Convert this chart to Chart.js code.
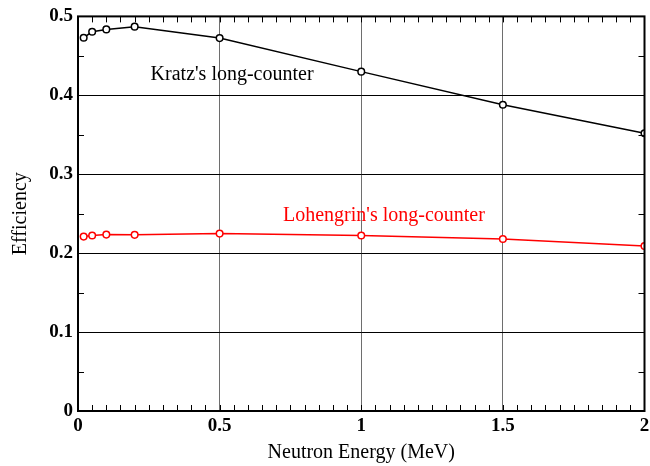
<!DOCTYPE html>
<html>
<head>
<meta charset="utf-8">
<script src="https://cdn.jsdelivr.net/npm/chart.js@4.4.1/dist/chart.umd.min.js"></script>
<style>
  html, body { margin: 0; padding: 0; background: #fff; }
  #wrap { width: 650px; height: 466px; position: relative; }
</style>
</head>
<body>
<div id="wrap"><canvas id="effChart"></canvas></div>
<script>
// neutron energy (MeV) for each measured point
const energies = [0.02, 0.05, 0.1, 0.2, 0.5, 1, 1.5, 2];

// detection efficiency of each counter
const kratzEff = [0.473, 0.4805, 0.4835, 0.487, 0.4725, 0.430, 0.388, 0.352];
const lohengrinEff = [0.221, 0.2223, 0.2235, 0.2232, 0.2248, 0.2223, 0.218, 0.209];

const seriesNames = ["Kratz's long-counter", "Lohengrin's long-counter"];
const seriesColors = ["#000000", "#ff0000"];

// where each series name is written (data units: x centre, text baseline)
const nameX = [0.544, 1.08];
const nameY = [0.4195, 0.241];

const serif = "'Liberation Serif', 'Times New Roman', serif";

function toPoints(ys) {
  return energies.map((x, i) => ({ x: x, y: ys[i] }));
}

// frame, inward minor ticks and the series names
const framePlugin = {
  id: "frame",
  afterDraw(chart) {
    const ctx = chart.ctx;
    const a = chart.chartArea;
    const xs = chart.scales.x;
    const ys = chart.scales.y;
    ctx.save();
    ctx.strokeStyle = "#000";
    ctx.lineWidth = 1;
    ctx.beginPath();
    for (let v = 0.05; v < 2; v += 0.05) {
      const px = Math.round(xs.getPixelForValue(v)) + 0.5;
      ctx.moveTo(px, a.bottom); ctx.lineTo(px, a.bottom - 6);
      ctx.moveTo(px, a.top); ctx.lineTo(px, a.top + 6);
    }
    for (let v = 0.05; v < 0.5; v += 0.1) {
      const py = Math.round(ys.getPixelForValue(v)) + 0.5;
      ctx.moveTo(a.left, py); ctx.lineTo(a.left + 6, py);
      ctx.moveTo(a.right, py); ctx.lineTo(a.right - 6, py);
    }
    ctx.stroke();
    ctx.lineWidth = 2;
    ctx.strokeRect(a.left, a.top, a.right - a.left, a.bottom - a.top);
    ctx.restore();
  },
  afterDatasetsDraw(chart) {
    const ctx = chart.ctx;
    const xs = chart.scales.x;
    const ys = chart.scales.y;
    ctx.save();
    ctx.font = "20px " + serif;
    ctx.textAlign = "center";
    ctx.textBaseline = "alphabetic";
    seriesNames.forEach((name, i) => {
      ctx.fillStyle = seriesColors[i];
      ctx.fillText(name, xs.getPixelForValue(nameX[i]), ys.getPixelForValue(nameY[i]));
    });
    ctx.restore();
  }
};

function makeSet(label, ys, color) {
  return {
    label: label,
    data: toPoints(ys),
    borderColor: color,
    backgroundColor: "#fff",
    borderWidth: 1.5,
    pointRadius: 3.3,
    pointBorderWidth: 1.5,
    pointBackgroundColor: "#fff",
    pointBorderColor: color,
    tension: 0
  };
}

new Chart(document.getElementById("effChart"), {
  type: "line",
  data: {
    datasets: [
      makeSet(seriesNames[0], kratzEff, seriesColors[0]),
      makeSet(seriesNames[1], lohengrinEff, seriesColors[1])
    ]
  },
  options: {
    responsive: true,
    maintainAspectRatio: false,
    animation: false,
    layout: { padding: { top: 14, right: 5, left: 0, bottom: 0 } },
    plugins: {
      legend: { display: false },
      tooltip: { enabled: false }
    },
    scales: {
      x: {
        type: "linear",
        min: 0,
        max: 2,
        ticks: {
          stepSize: 0.5,
          color: "#000",
          padding: 4,
          maxRotation: 0,
          callback: v => String(Number(v.toFixed(2))),
          font: { family: serif, size: 19, weight: "bold" }
        },
        grid: { color: "#6e6e6e", lineWidth: 1, drawTicks: false },
        border: { display: false },
        title: {
          display: true,
          text: "Neutron Energy (MeV)",
          color: "#000",
          padding: { top: 0, bottom: 1 },
          font: { family: serif, size: 20 }
        },
        afterFit(scale) {
          scale.height = 55;
          scale.paddingLeft = 0;
          scale.paddingRight = 0;
        }
      },
      y: {
        min: 0,
        max: 0.5,
        ticks: {
          stepSize: 0.1,
          color: "#000",
          padding: 5,
          callback: v => String(Number(v.toFixed(2))),
          font: { family: serif, size: 19, weight: "bold" }
        },
        grid: { color: "#000", lineWidth: 1, drawTicks: false },
        border: { display: false },
        title: {
          display: true,
          text: "Efficiency",
          color: "#000",
          padding: { top: 9, bottom: 0 },
          font: { family: serif, size: 20 }
        },
        afterFit(scale) { scale.width = 78; }
      }
    }
  },
  plugins: [framePlugin]
});
</script>
</body>
</html>
